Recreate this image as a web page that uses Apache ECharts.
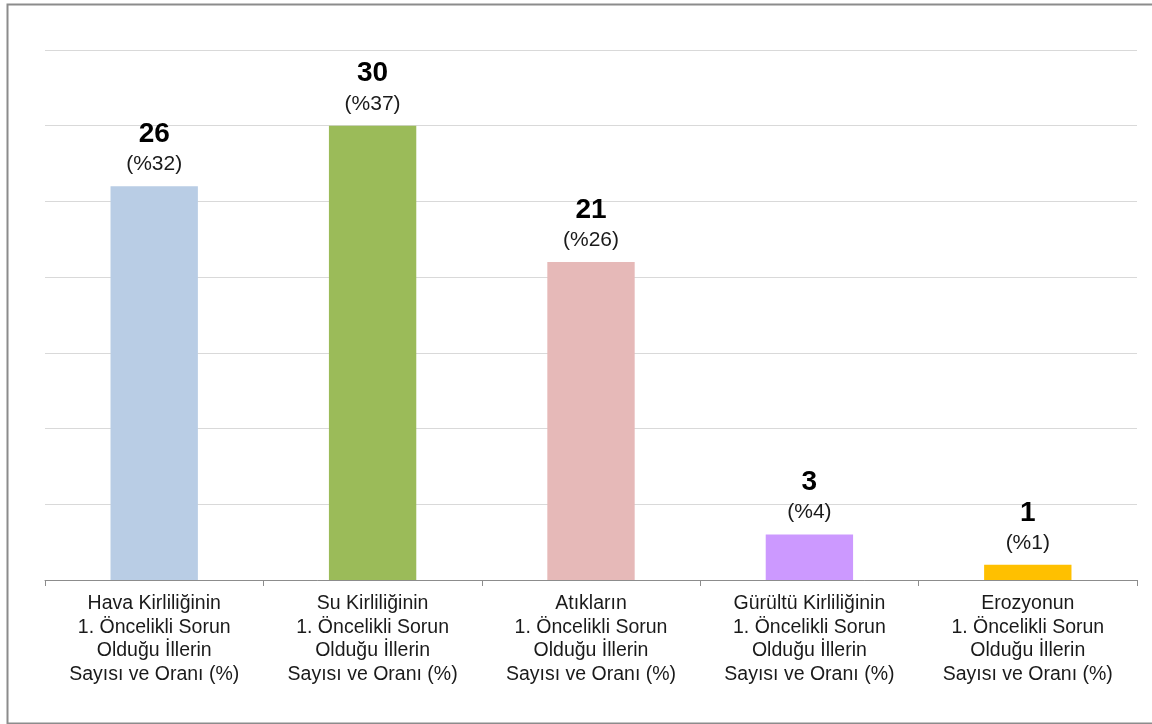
<!DOCTYPE html>
<html>
<head>
<meta charset="utf-8">
<script src="https://cdn.jsdelivr.net/npm/echarts@6/dist/echarts.min.js"></script>
<style>html,body{margin:0;padding:0;background:#fff}#c{width:1152px;height:724px}</style>
</head>
<body>
<div id="c"></div>
<script>
const categories = [
  "Hava Kirliliğinin\n1. Öncelikli Sorun\nOlduğu İllerin\nSayısı ve Oranı (%)",
  "Su Kirliliğinin\n1. Öncelikli Sorun\nOlduğu İllerin\nSayısı ve Oranı (%)",
  "Atıkların\n1. Öncelikli Sorun\nOlduğu İllerin\nSayısı ve Oranı (%)",
  "Gürültü Kirliliğinin\n1. Öncelikli Sorun\nOlduğu İllerin\nSayısı ve Oranı (%)",
  "Erozyonun\n1. Öncelikli Sorun\nOlduğu İllerin\nSayısı ve Oranı (%)"
];
const values = [26, 30, 21, 3, 1];
const percents = [32, 37, 26, 4, 1];
const colors = ["#B9CDE5", "#9BBB59", "#E6B9B8", "#CC99FF", "#FFC000"];

const chart = echarts.init(document.getElementById('c'));
chart.setOption({
  animation: false,
  backgroundColor: '#fff',
  graphic: [{
    type: 'rect', left: 5, top: 2,
    shape: { width: 1160, height: 719 },
    style: { fill: 'none', stroke: '#8c8c8c', lineWidth: 2 }
  }],
  grid: { left: 45, right: 15, top: 50, bottom: 144 },
  xAxis: {
    type: 'category',
    data: categories,
    axisLine: { lineStyle: { color: '#8c8c8c', width: 1 } },
    axisTick: { show: true, length: 6, alignWithLabel: false, lineStyle: { color: '#8c8c8c' } },
    axisLabel: { color: '#1a1a1a', fontFamily: 'Liberation Sans, Arial', fontSize: 19.5, lineHeight: 23.5, margin: 12, interval: 0 }
  },
  yAxis: {
    type: 'value', min: 0, max: 35, interval: 5,
    axisLabel: { show: false },
    axisLine: { show: false },
    axisTick: { show: false },
    splitLine: { lineStyle: { color: '#d9d9d9', width: 1 } }
  },
  series: [{
    type: 'bar',
    barWidth: '40%',
    data: values.map((v, i) => ({ value: v, itemStyle: { color: colors[i] } })),
    label: {
      show: true, position: 'top', distance: 9,
      formatter: p => '{v|' + values[p.dataIndex] + '}\n{p|(%' + percents[p.dataIndex] + ')}',
      rich: {
        v: { fontFamily: 'Liberation Sans, Arial', fontSize: 28, fontWeight: 'bold', color: '#000', lineHeight: 34 },
        p: { fontFamily: 'Liberation Sans, Arial', fontSize: 21, color: '#1a1a1a', lineHeight: 26 }
      }
    }
  }]
});
</script>
</body>
</html>
